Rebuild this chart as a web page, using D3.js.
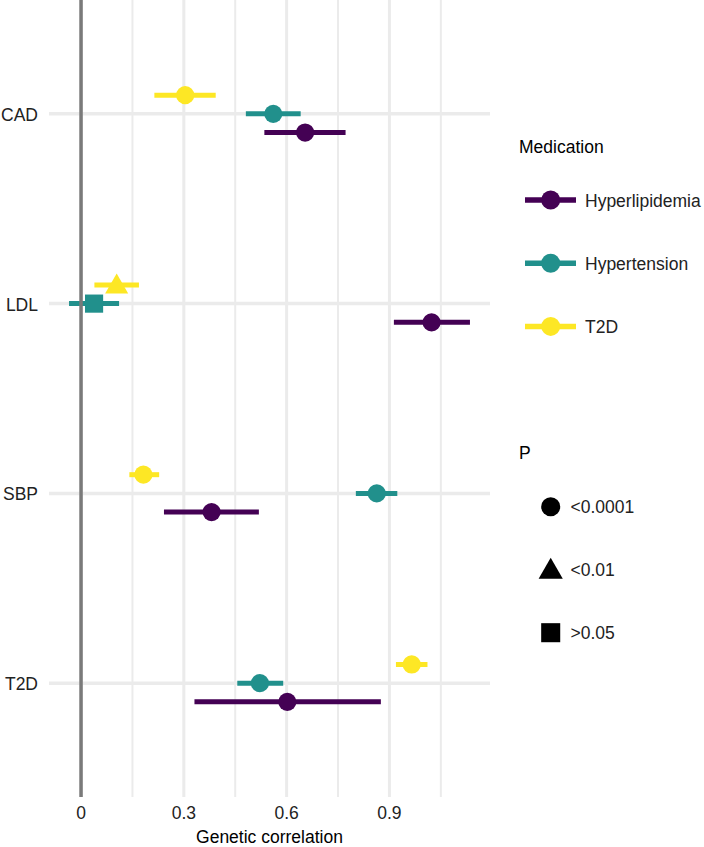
<!DOCTYPE html>
<html>
<head>
<meta charset="utf-8">
<script src="https://cdn.jsdelivr.net/npm/d3@7"></script>
<style>
  html, body { margin: 0; padding: 0; background: #fff; }
  svg { display: block; font-family: "Liberation Sans", Arial, Helvetica, sans-serif; }
</style>
</head>
<body>
<svg id="chart" width="704" height="847"></svg>
<script>
// ---- data ----
const traits = ["CAD", "LDL", "SBP", "T2D"];
const medications = ["Hyperlipidemia", "Hypertension", "T2D"];
const pLevels = ["<0.0001", "<0.01", ">0.05"];
const xTicks = [0, 0.3, 0.6, 0.9];
const xMinorTicks = [0.15, 0.45, 0.75, 1.05];

const hyperlipidemiaEst = [0.654, 1.023, 0.381, 0.602];
const hyperlipidemiaLo  = [0.535, 0.913, 0.242, 0.331];
const hyperlipidemiaHi  = [0.772, 1.135, 0.519, 0.875];
const hyperlipidemiaP   = ["<0.0001", "<0.0001", "<0.0001", "<0.0001"];

const hypertensionEst = [0.561, 0.038, 0.863, 0.522];
const hypertensionLo  = [0.481, -0.035, 0.802, 0.456];
const hypertensionHi  = [0.641, 0.111, 0.923, 0.590];
const hypertensionP   = ["<0.0001", ">0.05", "<0.0001", "<0.0001"];

const t2dEst = [0.304, 0.104, 0.182, 0.965];
const t2dLo  = [0.214, 0.039, 0.141, 0.919];
const t2dHi  = [0.393, 0.169, 0.228, 1.011];
const t2dP   = ["<0.0001", "<0.01", "<0.0001", "<0.0001"];

const seriesSource = {
  "Hyperlipidemia": [hyperlipidemiaEst, hyperlipidemiaLo, hyperlipidemiaHi, hyperlipidemiaP],
  "Hypertension":   [hypertensionEst, hypertensionLo, hypertensionHi, hypertensionP],
  "T2D":            [t2dEst, t2dLo, t2dHi, t2dP]
};
const rows = [];
medications.forEach(m => {
  const [e, lo, hi, p] = seriesSource[m];
  traits.forEach((t, i) => rows.push({ med: m, trait: t, est: e[i], lo: lo[i], hi: hi[i], p: p[i] }));
});

// ---- layout ----
const svg = d3.select("#chart");
const panel = { left: 49, right: 490, top: 0, bottom: 797 };

const lo = d3.min(rows, d => d.lo), hi = d3.max(rows, d => d.hi);
const pad = (hi - lo) * 0.05;
const x = d3.scaleLinear().domain([lo - pad, hi + pad]).range([panel.left, panel.right]);
const y = d3.scalePoint().domain(traits).range([panel.top, panel.bottom]).padding(0.6);
const dodge = d3.scalePoint().domain(["T2D", "Hypertension", "Hyperlipidemia"]).range([-18.7, 18.7]);
const color = d3.scaleOrdinal().domain(medications).range(["#440154", "#21908C", "#FDE725"]);
const shape = d3.scaleOrdinal().domain(pLevels).range([d3.symbolCircle, d3.symbolTriangle, d3.symbolSquare]);
const shapeSize = d3.scaleOrdinal().domain(pLevels).range([260, 230, 330]);

const textColor = "#222";
const grid = "#ebebeb";

// grid
const g = svg.append("g");
g.selectAll("line.minor").data(xMinorTicks).join("line")
  .attr("x1", d => x(d)).attr("x2", d => x(d))
  .attr("y1", panel.top).attr("y2", panel.bottom)
  .attr("stroke", grid).attr("stroke-width", 2);
g.selectAll("line.major").data(xTicks).join("line")
  .attr("x1", d => x(d)).attr("x2", d => x(d))
  .attr("y1", panel.top).attr("y2", panel.bottom)
  .attr("stroke", grid).attr("stroke-width", 3);
g.selectAll("line.hgrid").data(traits).join("line")
  .attr("x1", panel.left).attr("x2", panel.right)
  .attr("y1", d => y(d)).attr("y2", d => y(d))
  .attr("stroke", grid).attr("stroke-width", 3.5);

// error bars
const marks = svg.append("g");
marks.selectAll("line.err").data(rows).join("line")
  .attr("x1", d => x(d.lo)).attr("x2", d => x(d.hi))
  .attr("y1", d => y(d.trait) + dodge(d.med)).attr("y2", d => y(d.trait) + dodge(d.med))
  .attr("stroke", d => color(d.med)).attr("stroke-width", 5);

// zero line
svg.append("line")
  .attr("x1", x(0)).attr("x2", x(0)).attr("y1", panel.top).attr("y2", panel.bottom)
  .attr("stroke", "#7a7a7a").attr("stroke-width", 3.5);

// points
marks.selectAll("path.pt").data(rows).join("path")
  .attr("transform", d => `translate(${x(d.est)},${y(d.trait) + dodge(d.med) + (d.p === "<0.01" ? 2 : 0)})`)
  .attr("d", d => d3.symbol().type(shape(d.p)).size(shapeSize(d.p))())
  .attr("fill", d => color(d.med));

// y axis labels
svg.append("g").selectAll("text").data(traits).join("text")
  .attr("x", 38).attr("y", d => y(d) + 7)
  .attr("text-anchor", "end").attr("font-size", 17.5).attr("fill", textColor)
  .text(d => d);

// x axis labels
svg.append("g").selectAll("text").data(xTicks).join("text")
  .attr("x", d => x(d)).attr("y", 819)
  .attr("text-anchor", "middle").attr("font-size", 17.5).attr("fill", textColor)
  .text(d => d3.format("~g")(d));

svg.append("text").attr("x", (panel.left + panel.right) / 2).attr("y", 842.5)
  .attr("text-anchor", "middle").attr("font-size", 17.5).attr("fill", "#000")
  .text("Genetic correlation");

// legend: Medication
const leg1 = svg.append("g");
leg1.append("text").attr("x", 519).attr("y", 153).attr("font-size", 17.5).attr("fill", "#000").text("Medication");
const medKeys = leg1.selectAll("g.key").data(medications).join("g")
  .attr("transform", (d, i) => `translate(0,${200 + i * 63.2})`);
medKeys.append("line").attr("x1", 525).attr("x2", 576).attr("y1", 0).attr("y2", 0)
  .attr("stroke", d => color(d)).attr("stroke-width", 5.5);
medKeys.append("circle").attr("cx", 550.7).attr("cy", 0).attr("r", 9.5).attr("fill", d => color(d));
medKeys.append("text").attr("x", 585).attr("y", 6.5).attr("font-size", 17.5).attr("fill", textColor).text(d => d);

// legend: P
const leg2 = svg.append("g");
leg2.append("text").attr("x", 519).attr("y", 459).attr("font-size", 17.5).attr("fill", "#000").text("P");
const pKeys = leg2.selectAll("g.key").data(pLevels).join("g")
  .attr("transform", (d, i) => `translate(0,${506.7 + i * 63})`);
pKeys.append("path")
  .attr("transform", d => `translate(550.7,${d === "<0.01" ? 2 : 0})`)
  .attr("d", d => d3.symbol().type(shape(d)).size(shapeSize(d) * 1.1)())
  .attr("fill", "#000");
pKeys.append("text").attr("x", 570.5).attr("y", 6.5).attr("font-size", 17.5).attr("fill", textColor).text(d => d);
</script>
</body>
</html>
